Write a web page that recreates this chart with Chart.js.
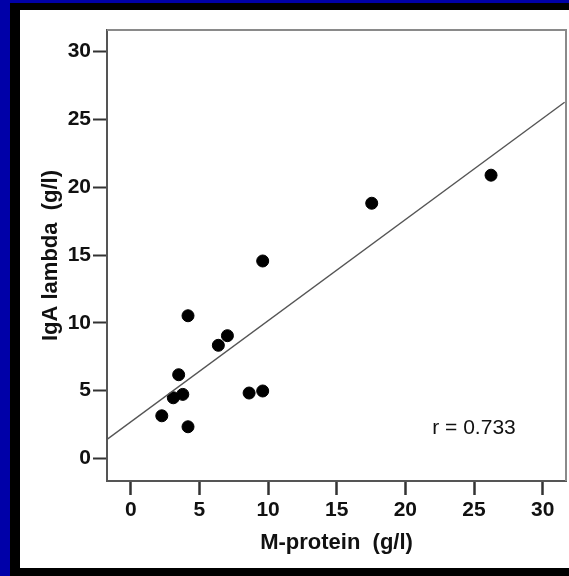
<!DOCTYPE html>
<html>
<head>
<meta charset="utf-8">
<script src="https://cdn.jsdelivr.net/npm/chart.js@4.4.1/dist/chart.umd.min.js"></script>
<style>
  html, body { margin: 0; padding: 0; background: #0000a8; }
  canvas { display: block; }
</style>
</head>
<body>
<canvas id="scatter" width="569" height="576"></canvas>
<script>
// M-protein vs IgA lambda, one point per patient
var mProtein  = [2.26, 3.10, 3.79, 3.49, 4.17, 4.17, 6.38, 7.04, 8.62, 9.61, 9.61, 17.55, 26.24];
var igaLambda = [3.14, 4.47, 4.72, 6.17, 2.33, 10.52, 8.34, 9.05, 4.82, 4.97, 14.56, 18.82, 20.89];

// regression line at the plot edges
var fitX = [-1.73, 31.6];
var fitY = [1.40, 26.27];

var tickValues = [0, 5, 10, 15, 20, 25, 30];
var rLabel = 'r = 0.733';

var fontFamily = '"Liberation Sans", Arial, sans-serif';

function toPoints(xs, ys) {
	var pts = [];
	for (var i = 0; i < xs.length; i++) {
		pts.push({ x: xs[i], y: ys[i] });
	}
	return pts;
}

// slide background: blue frame, black border, white panel
var framePlugin = {
	id: 'frame',
	beforeDraw: function (chart) {
		var ctx = chart.ctx;
		ctx.save();
		ctx.fillStyle = '#0000a8';
		ctx.fillRect(0, 0, chart.width, chart.height);
		ctx.fillStyle = '#000000';
		ctx.fillRect(10, 3, chart.width - 10, chart.height - 3);
		ctx.fillStyle = '#ffffff';
		ctx.fillRect(20, 10, chart.width - 20, 558);
		ctx.restore();
	},
	afterDatasetsDraw: function (chart) {
		var ctx = chart.ctx;
		var a = chart.chartArea;
		ctx.save();
		// top and right frame of the plot
		ctx.strokeStyle = '#8a8a8a';
		ctx.lineWidth = 2;
		ctx.beginPath();
		ctx.moveTo(a.left, a.top);
		ctx.lineTo(a.right, a.top);
		ctx.lineTo(a.right, a.bottom);
		ctx.stroke();
		// correlation note
		var xs = chart.scales.x, ys = chart.scales.y;
		ctx.fillStyle = '#111111';
		ctx.font = '21px ' + fontFamily;
		ctx.textAlign = 'center';
		ctx.textBaseline = 'middle';
		ctx.fillText(rLabel, xs.getPixelForValue(25.0), ys.getPixelForValue(2.25));
		ctx.restore();
	}
};

function keepTicks(scale) {
	scale.ticks = tickValues.map(function (v) { return { value: v }; });
}

function noEdgePadding(scale) {
	scale.paddingLeft = 0;
	scale.paddingRight = 0;
	scale.paddingTop = 0;
	scale.paddingBottom = 0;
}

new Chart(document.getElementById('scatter'), {
	type: 'scatter',
	data: {
		datasets: [{
			type: 'line',
			data: toPoints(fitX, fitY),
			borderColor: '#555555',
			borderWidth: 1.4,
			pointRadius: 0,
			fill: false
		}, {
			data: toPoints(mProtein, igaLambda),
			backgroundColor: '#000000',
			borderColor: '#000000',
			pointRadius: 6,
			pointHoverRadius: 6
		}]
	},
	options: {
		responsive: false,
		animation: false,
		events: [],
		layout: { autoPadding: false, padding: { left: 20, right: 3, top: 30, bottom: 0 } },
		plugins: {
			legend: { display: false },
			tooltip: { enabled: false }
		},
		scales: {
			x: {
				type: 'linear',
				min: -1.73,
				max: 31.7,
				afterBuildTicks: keepTicks,
				afterFit: function (scale) { scale.height = 95; noEdgePadding(scale); },
				border: { color: '#555555', width: 2 },
				grid: { drawOnChartArea: false, tickLength: 14, tickWidth: 2.5, tickColor: '#333333' },
				ticks: {
					color: '#111111',
					padding: 3,
					maxRotation: 0,
					autoSkip: false,
					font: { family: fontFamily, size: 21, weight: 'bold' }
				},
				title: {
					display: true,
					text: 'M-protein  (g/l)',
					color: '#111111',
					padding: { top: 0, bottom: 20 },
					font: { family: fontFamily, size: 22, weight: 'bold' }
				}
			},
			y: {
				type: 'linear',
				min: -1.67,
				max: 31.6,
				afterBuildTicks: keepTicks,
				afterFit: function (scale) { scale.width = 87; noEdgePadding(scale); },
				border: { color: '#555555', width: 2 },
				grid: { drawOnChartArea: false, tickLength: 14, tickWidth: 2, tickColor: '#333333' },
				ticks: {
					color: '#111111',
					padding: 2,
					autoSkip: false,
					font: { family: fontFamily, size: 21, weight: 'bold' }
				},
				title: {
					display: true,
					text: 'IgA lambda  (g/l)',
					color: '#111111',
					padding: { top: 18, bottom: 0 },
					font: { family: fontFamily, size: 22, weight: 'bold' }
				}
			}
		}
	},
	plugins: [framePlugin]
});
</script>
</body>
</html>
